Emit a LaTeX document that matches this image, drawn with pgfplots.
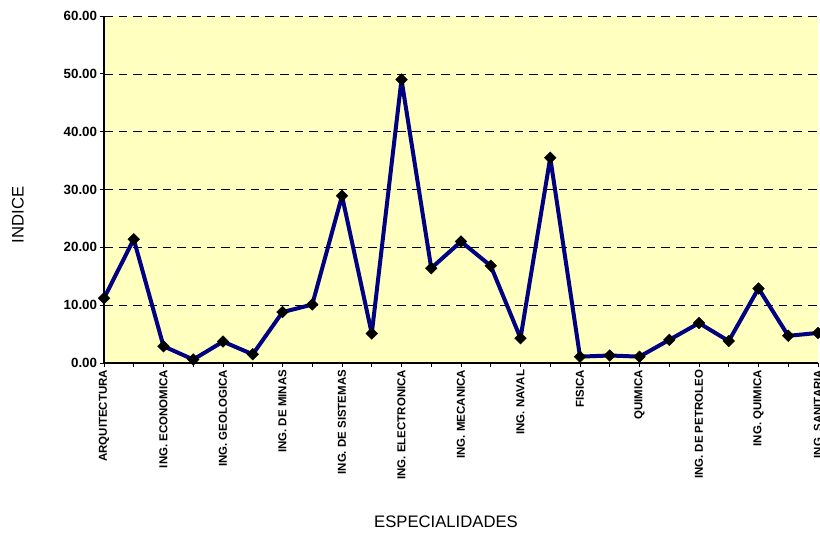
\documentclass[border=0pt]{standalone}
\usepackage{fontspec}
\setmainfont{Liberation Sans}
\usepackage{pgfplots}
\pgfplotsset{compat=1.18}
\definecolor{bgyellow}{RGB}{255,255,192}
\definecolor{navyline}{RGB}{0,0,128}
\begin{document}
\begin{tikzpicture}
\begin{axis}[
  name=ax,
  scale only axis,
  width=535.5pt, height=260.25pt,
  xmin=0, xmax=24, ymin=0, ymax=60,
  axis x line*=bottom, axis y line*=left,
  axis line style={black, line width=0.8pt},
  axis background/.style={fill=bgyellow},
  xtick={0,...,24},
  xticklabels={ARQUITECTURA,,ING. ECONOMICA,,ING. GEOLOGICA,,ING. DE MINAS,,ING. DE SISTEMAS,,ING. ELECTRONICA,,ING. MECANICA,,ING. NAVAL,,FISICA,,QUIMICA,,ING. DE PETROLEO,,ING. QUIMICA,,ING. SANITARIA},
  xticklabel style={rotate=90, anchor=east, font=\fontsize{8.6}{10}\selectfont\bfseries, inner sep=2pt},
  ytick={0,10,20,30,40,50,60},
  yticklabels={0.00,10.00,20.00,30.00,40.00,50.00,60.00},
  yticklabel style={font=\fontsize{10}{12}\selectfont\bfseries, inner sep=2pt},
  tick align=outside,
  major tick length=3pt,
  tick style={black, line width=0.6pt},
  ymajorgrids,
  major grid style={black, line width=0.5pt, dash pattern=on 6.5pt off 4.5pt},
  clip=false,
]
\addplot[navyline, line width=3pt, line join=round, mark=square*, mark size=3.1pt,
  mark options={rotate=45, fill=black, draw=black, line width=0.3pt, line join=miter}]
  coordinates {
  (0,11.2) (1,21.4) (2,2.9) (3,0.6) (4,3.7) (5,1.5) (6,8.8) (7,10.1)
  (8,28.9) (9,5.1) (10,49.0) (11,16.4) (12,21.0) (13,16.8) (14,4.3)
  (15,35.5) (16,1.1) (17,1.3) (18,1.1) (19,4.0) (20,6.9) (21,3.8)
  (22,12.9) (23,4.7) (24,5.2)
  };
\end{axis}
\node[font=\fontsize{12.5}{14}\selectfont] at ([xshift=256.5pt, yshift=-119.25pt]ax.south west) {ESPECIALIDADES};
\node[font=\fontsize{12.5}{14}\selectfont, rotate=90] at ([xshift=-64.5pt, yshift=111pt]ax.south west) {INDICE};
\pgfresetboundingbox
\path[use as bounding box] ([xshift=-78pt, yshift=-126.75pt]ax.south west) rectangle ([xshift=1.5pt, yshift=12pt]ax.north east);
\end{tikzpicture}
\end{document}
